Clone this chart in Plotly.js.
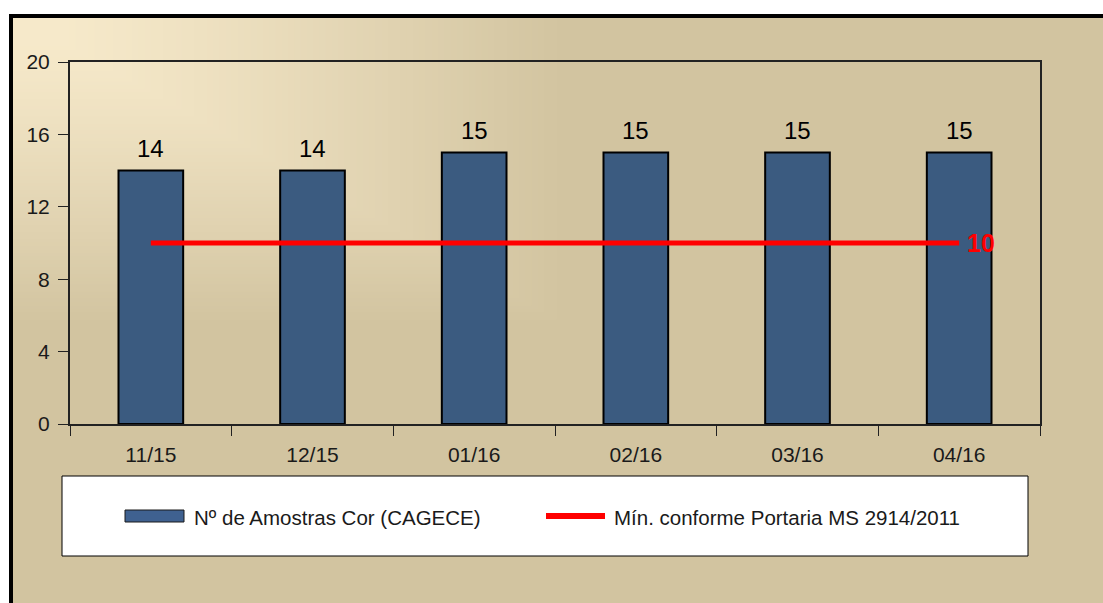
<!DOCTYPE html>
<html>
<head>
<meta charset="utf-8">
<script src="https://cdn.plot.ly/plotly-3.0.1.min.js"></script>
<style>html,body{margin:0;padding:0;background:#fff;}#chart{width:1103px;height:603px;}</style>
</head>
<body>
<div id="chart"></div>
<script>
// ---- data ----
const categories = ['11/15', '12/15', '01/16', '02/16', '03/16', '04/16'];
const amostras = [14, 14, 15, 15, 15, 15];
const minimo = [10, 10, 10, 10, 10, 10];
const yTicks = [0, 4, 8, 12, 16, 20];
const serieBarras = 'Nº de Amostras Cor (CAGECE)';
const serieLinha = 'Mín. conforme Portaria MS 2914/2011';

// ---- geometry helpers (figure pixels -> paper coords) ----
const W = 1103, H = 603;
const M = {l: 70, r: 63, t: 62, b: 179};
const PW = W - M.l - M.r, PH = H - M.t - M.b;
const px = X => (X - M.l) / PW;
const py = Y => (H - M.b - Y) / PH;

// ---- background (frame + soft gradient) drawn on canvas ----
function backgroundImage() {
  const c = document.createElement('canvas');
  c.width = W; c.height = H;
  const g = c.getContext('2d');
  g.fillStyle = '#ffffff'; g.fillRect(0, 0, W, H);
  const tan = [210, 196, 160], light = [246, 233, 202];
  g.fillStyle = 'rgb(' + tan.join(',') + ')';
  g.fillRect(11, 16, W, H);
  const steps = 80, x0 = 13, y0 = 18, GW = 500, GH = 280;
  for (let i = steps; i >= 0; i--) {
    const t = i / steps;
    const k = Math.pow(t, 1.2);
    const col = tan.map((v, j) => Math.round(light[j] + (v - light[j]) * k));
    g.fillStyle = 'rgb(' + col.join(',') + ')';
    g.fillRect(x0, y0, GW * t + 50, GH * t + 25);
  }
  g.strokeStyle = '#000'; g.lineWidth = 4;
  g.beginPath();
  g.moveTo(11, H + 10); g.lineTo(11, 16); g.lineTo(W + 10, 16);
  g.stroke();
  return c.toDataURL('image/png');
}

const FONT = 'Liberation Sans, Arial, sans-serif';

const traces = [
  {
    type: 'bar', name: serieBarras, x: categories, y: amostras,
    width: 0.4,
    marker: {color: '#3b5b80', line: {color: '#000000', width: 2}},
    hoverinfo: 'x+y', showlegend: false
  },
  {
    type: 'scatter', mode: 'lines', name: serieLinha, x: categories, y: minimo,
    line: {color: '#ff0000', width: 5},
    hoverinfo: 'x+y', showlegend: false
  }
];

const annotations = [];
categories.forEach((c, i) => {
  annotations.push({
    x: c, y: amostras[i], xref: 'x', yref: 'y', text: String(amostras[i]),
    showarrow: false, yanchor: 'bottom', yshift: 7,
    font: {family: FONT, size: 24, color: '#000'}
  });
});
const last = categories.length - 1;
annotations.push({
  x: categories[last], y: minimo[last], xref: 'x', yref: 'y',
  text: '<b>' + minimo[last] + '</b>', showarrow: false,
  xanchor: 'left', yanchor: 'middle', xshift: 6,
  font: {family: FONT, size: 25, color: '#ff0000'}
});
// legend texts
annotations.push({
  xref: 'paper', yref: 'paper', x: px(192), y: py(517), text: serieBarras,
  showarrow: false, xanchor: 'left', yanchor: 'middle',
  font: {family: FONT, size: 20.5, color: '#1a1a1a'}
});
annotations.push({
  xref: 'paper', yref: 'paper', x: px(612), y: py(517), text: serieLinha,
  showarrow: false, xanchor: 'left', yanchor: 'middle',
  font: {family: FONT, size: 20.5, color: '#1a1a1a'}
});

const shapes = [
  // legend box
  {type: 'rect', xref: 'paper', yref: 'paper', x0: px(62), x1: px(1028), y0: py(556), y1: py(476),
   fillcolor: '#ffffff', line: {color: '#000', width: 1}, layer: 'above'},
  // legend swatch bar
  {type: 'rect', xref: 'paper', yref: 'paper', x0: px(125), x1: px(184), y0: py(522), y1: py(510),
   fillcolor: '#3f6190', line: {color: '#1a1a1a', width: 1}, layer: 'above'},
  // legend swatch line
  {type: 'line', xref: 'paper', yref: 'paper', x0: px(546), x1: px(605), y0: py(516), y1: py(516),
   line: {color: '#ff0000', width: 6}, layer: 'above'}
];

const layout = {
  width: W, height: H,
  margin: M,
  paper_bgcolor: '#ffffff',
  plot_bgcolor: 'rgba(0,0,0,0)',
  showlegend: false,
  font: {family: FONT, size: 20, color: '#1a1a1a'},
  images: [{
    source: backgroundImage(), xref: 'paper', yref: 'paper',
    x: px(0), y: py(0), sizex: W / PW, sizey: H / PH,
    xanchor: 'left', yanchor: 'top', sizing: 'stretch', layer: 'below'
  }],
  xaxis: {
    type: 'category', range: [-0.5, categories.length - 0.5],
    showline: true, linecolor: '#222', linewidth: 2, mirror: true,
    ticks: 'outside', tickson: 'boundaries', ticklen: 10, tickwidth: 1, tickcolor: '#222',
    showgrid: false, zeroline: false, fixedrange: true,
    tickfont: {family: FONT, size: 21, color: '#1a1a1a'}, ticklabelstandoff: 11
  },
  yaxis: {
    range: [0, 20], tickvals: yTicks, ticktext: yTicks.map(String),
    showline: true, linecolor: '#222', linewidth: 2, mirror: true,
    ticks: 'outside', ticklen: 10, tickwidth: 1, tickcolor: '#222',
    showgrid: false, zeroline: false, fixedrange: true,
    tickfont: {family: FONT, size: 21, color: '#1a1a1a'}, ticklabelstandoff: 4
  },
  annotations: annotations,
  shapes: shapes
};

Plotly.newPlot('chart', traces, layout, {displayModeBar: false, staticPlot: true});
</script>
</body>
</html>
